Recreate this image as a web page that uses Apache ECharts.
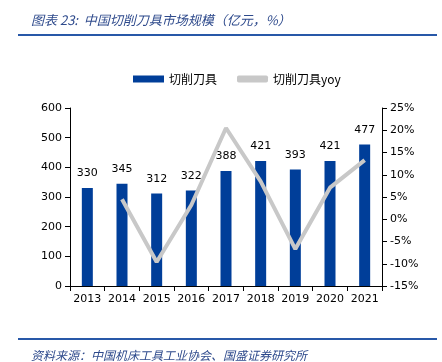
<!DOCTYPE html>
<html><head><meta charset="utf-8">
<script src="https://cdn.jsdelivr.net/npm/echarts@6/dist/echarts.min.js"></script>
<style>html,body{margin:0;padding:0;background:#fff}#c{width:442px;height:362px}</style>
</head><body><div id="c"></div>
<script>
const categories = ['2013','2014','2015','2016','2017','2018','2019','2020','2021'];
const marketSize = [330,345,312,322,388,421,393,421,477];
const yoy = [null,4.5,-9.6,3.2,20.5,8.5,-6.7,7.1,13.3];
const leftTicks = {min:0,max:600,interval:100};
const rightTicks = {min:-15,max:25,interval:5};

const chart = echarts.init(document.getElementById('c'));
const numFont = 'DejaVu Sans, Verdana, sans-serif';
const cjkFont = '"Noto Sans CJK SC", sans-serif';
chart.setOption({
  animation:false,
  title:[{
    text:'图表 23:  中国切削刀具市场规模（亿元，%）',
    left:26, top:9,
    textStyle:{fontSize:13,fontStyle:'italic',fontWeight:'normal',color:'#2E4A8C',fontFamily:cjkFont}
  },{
    text:'资料来源：中国机床工具工业协会、国盛证券研究所',
    left:26, top:344,
    textStyle:{fontSize:12,fontStyle:'italic',fontWeight:'normal',color:'#2E4A8C',fontFamily:cjkFont}
  }],
  graphic:[
    {type:'rect',shape:{x:18,y:34,width:419,height:2},style:{fill:'#2858A8'}},
    {type:'rect',shape:{x:18,y:338,width:419,height:2},style:{fill:'#2858A8'}}
  ],
  legend:{
    top:68, left:128, itemGap:20, itemWidth:31, itemHeight:7,
    textStyle:{fontSize:12,color:'#000',fontFamily:cjkFont},
    data:[{name:'切削刀具',icon:'rect'},{name:'切削刀具yoy',icon:'roundRect'}]
  },
  grid:{left:70,right:60,top:108,bottom:76},
  xAxis:{
    type:'category', data:categories,
    axisLine:{lineStyle:{color:'#000'}},
    axisTick:{show:true,alignWithLabel:false,lineStyle:{color:'#000'}},
    axisLabel:{color:'#000',fontSize:11,fontFamily:numFont,margin:8,interval:0}
  },
  yAxis:[{
    type:'value', min:leftTicks.min, max:leftTicks.max, interval:leftTicks.interval,
    axisLine:{show:true,lineStyle:{color:'#000'}},
    axisTick:{show:true,lineStyle:{color:'#000'}},
    splitLine:{show:false},
    axisLabel:{color:'#000',fontSize:11,fontFamily:numFont,margin:8}
  },{
    type:'value', min:rightTicks.min, max:rightTicks.max, interval:rightTicks.interval,
    axisLine:{show:true,lineStyle:{color:'#000'}},
    axisTick:{show:true,lineStyle:{color:'#000'}},
    splitLine:{show:false},
    axisLabel:{color:'#000',fontSize:11,fontFamily:numFont,margin:8,formatter:'{value}%'}
  }],
  series:[{
    name:'切削刀具', type:'bar', data:marketSize, barWidth:11,
    itemStyle:{color:'#003E99'},
    label:{show:true,position:'top',distance:9,color:'#000',fontSize:11,fontFamily:numFont}
  },{
    name:'切削刀具yoy', type:'line', yAxisIndex:1, data:yoy,
    symbol:'none', lineStyle:{color:'#C8C8C8',width:4},
    itemStyle:{color:'#C8C8C8'}
  }]
});
</script></body></html>
